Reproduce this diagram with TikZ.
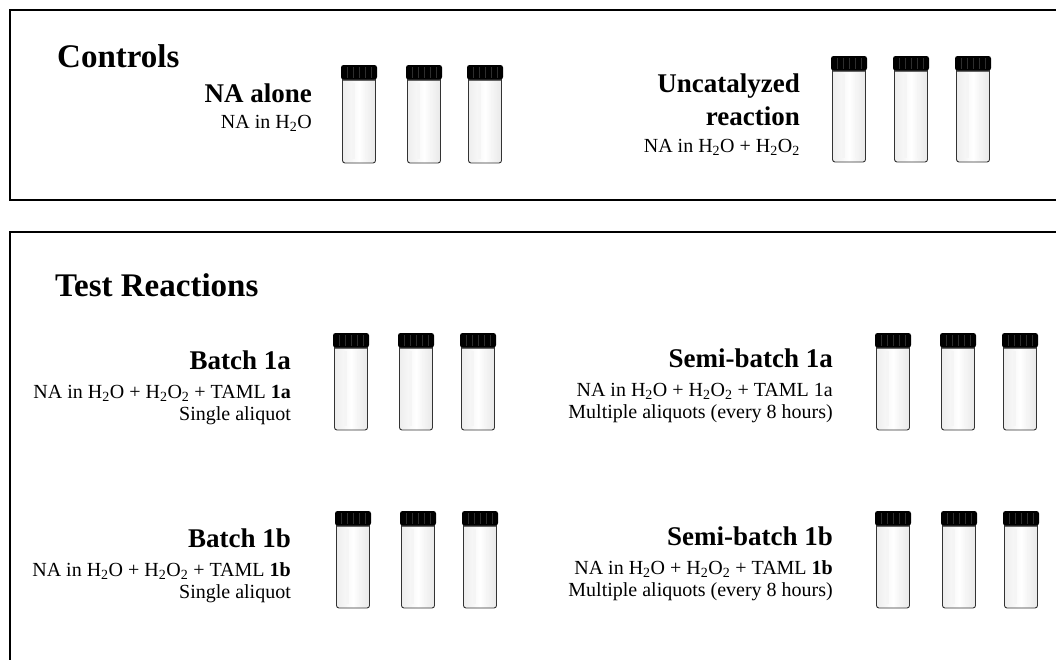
\documentclass[tikz,border=0pt]{standalone}
\usepackage{fontspec}
\setmainfont{Liberation Serif}
\tikzset{
  pics/vial/.style={code={
    % glass body
    \draw[draw=black!80, line width=0.9pt, rounded corners=2.5pt,
          left color=black!7, right color=black!9, middle color=white]
      (1.5,10) -- (1.5,#1) -- (34.5,#1) -- (34.5,10) -- cycle;
    \draw[black!4, line width=3pt] (12,18) -- (12,#1-4);
    \draw[black!4, line width=2pt] (25,18) -- (25,#1-4);
    % neck band
    \fill[black!60] (2,13) rectangle (34,16);
    % screw cap
    \fill[black, rounded corners=2.5pt] (0,0) rectangle (36,14.5);
    \foreach \r in {6,12,...,30} \draw[black!82, line width=0.5pt] (\r,2) -- (\r,12.5);
  }}
}
\begin{document}
\begin{tikzpicture}[x=1pt,y=-1pt,
  panel/.style={draw=black, line width=1.4pt},
  heading/.style={font=\bfseries\fontsize{33}{36}\selectfont, inner sep=0pt},
  title/.style={font=\bfseries\fontsize{27}{30}\selectfont, inner sep=0pt},
  body/.style={font=\fontsize{20}{23}\selectfont, inner sep=0pt}]
\useasboundingbox (0,0) rectangle (1056,659);

% panels (open on the right / bottom edge)
\draw[panel] (1060,10) -- (10,10) -- (10,200) -- (1060,200);
\draw[panel] (1060,232) -- (10,232) -- (10,664);

% ---- Controls ----
\node[heading, anchor=base west] (ctl) at (57,67) {Controls};

\node[title, anchor=base east] (naT) at (312,102) {NA alone};
\node[body, anchor=base east] (naB) at (312,128) {NA in H\textsubscript{2}O};
\pic (c1) at (341,65) {vial=98};
\pic (c2) at (406,65) {vial=98};
\pic (c3) at (467,65) {vial=98};

\node[title, anchor=base east] (unT1) at (800,92) {Uncatalyzed};
\node[title, anchor=base east] (unT2) at (800,125) {reaction};
\node[body, anchor=base east] (unB) at (800,152) {NA in H\textsubscript{2}O + H\textsubscript{2}O\textsubscript{2}};
\pic (u1) at (831,56) {vial=106};
\pic (u2) at (893,56) {vial=106};
\pic (u3) at (955,56) {vial=106};

% ---- Test reactions ----
\node[heading, anchor=base west] (test) at (55,296) {Test Reactions};

\node[title, anchor=base east] (b1aT) at (291,369) {Batch 1a};
\node[body, anchor=base east] (b1aB) at (291,398) {NA in H\textsubscript{2}O + H\textsubscript{2}O\textsubscript{2} + TAML \textbf{1a}};
\node[body, anchor=base east] (b1aC) at (291,420) {Single aliquot};
\pic (a1) at (333,333) {vial=97};
\pic (a2) at (398,333) {vial=97};
\pic (a3) at (460,333) {vial=97};

\node[title, anchor=base east] (s1aT) at (833,367) {Semi-batch 1a};
\node[body, anchor=base east] (s1aB) at (833,396) {NA in H\textsubscript{2}O + H\textsubscript{2}O\textsubscript{2} + TAML 1a};
\node[body, anchor=base east] (s1aC) at (833,418) {Multiple aliquots (every 8 hours)};
\pic (sa1) at (875,333) {vial=97};
\pic (sa2) at (940,333) {vial=97};
\pic (sa3) at (1002,333) {vial=97};

\node[title, anchor=base east] (b1bT) at (291,547) {Batch 1b};
\node[body, anchor=base east] (b1bB) at (291,576) {NA in H\textsubscript{2}O + H\textsubscript{2}O\textsubscript{2} + TAML \textbf{1b}};
\node[body, anchor=base east] (b1bC) at (291,598) {Single aliquot};
\pic (b1) at (335,511) {vial=97};
\pic (b2) at (400,511) {vial=97};
\pic (b3) at (462,511) {vial=97};

\node[title, anchor=base east] (s1bT) at (833,545) {Semi-batch 1b};
\node[body, anchor=base east] (s1bB) at (833,574) {NA in H\textsubscript{2}O + H\textsubscript{2}O\textsubscript{2} + TAML \textbf{1b}};
\node[body, anchor=base east] (s1bC) at (833,596) {Multiple aliquots (every 8 hours)};
\pic (sb1) at (875,511) {vial=97};
\pic (sb2) at (941,511) {vial=97};
\pic (sb3) at (1003,511) {vial=97};
\end{tikzpicture}
\end{document}
